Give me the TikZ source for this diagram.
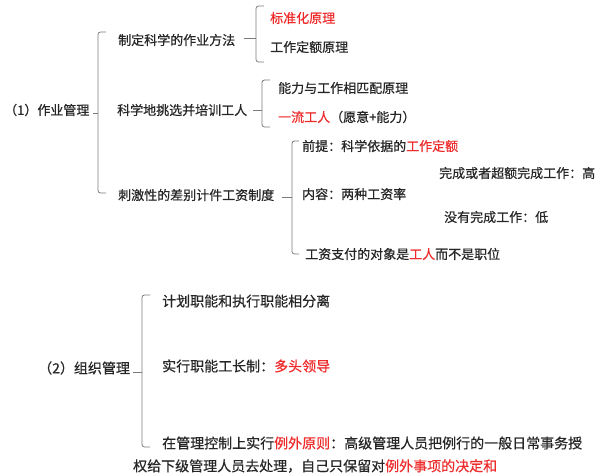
\documentclass[tikz,border=0pt]{standalone}
\usepackage{fontspec}
\setmainfont{Noto Sans CJK SC}[FakeBold=0.6]
\definecolor{txt}{HTML}{262626}
\definecolor{hl}{HTML}{EE2B2B}
\definecolor{ln}{HTML}{7A7A7A}
\tikzset{
  brace/.style={draw=ln,line width=0.8pt,rounded corners=2.5pt},
  lvla/.style={font=\fontsize{13}{15}\selectfont},
  lvlb/.style={font=\fontsize{14}{16}\selectfont}
}
\begin{document}
\begin{tikzpicture}[x=1pt,y=-1pt,every node/.style={anchor=west,inner sep=0pt,text=txt}]
  \useasboundingbox (0,0) rectangle (596,472);
  % (1)
  \begin{scope}[every node/.append style={lvla}]
    \node (zy) at (4,110) {（1）作业管理};
    \node (a1) at (118,40) {制定科学的作业方法};
    \node (a2) at (117,110) {科学地挑选并培训工人};
    \node (a3) at (118,195) {刺激性的差别计件工资制度};
    \node (b1) at (270,18) {\textcolor{hl}{标准化原理}};
    \node (b2) at (270,47) {工作定额原理};
    \node (c1) at (278,88) {能力与工作相匹配原理};
    \node (c2) at (278,117) {\textcolor{hl}{一流工人}（愿意+能力）};
    \node (d1) at (302,146) {前提：科学依据的\textcolor{hl}{工作定额}};
    \node (d2) at (302,194) {内容：两种工资率};
    \node (d3) at (305,254) {工资支付的对象是\textcolor{hl}{工人}而不是职位};
    \node (e1) at (439,173) {完成或者超额完成工作：高};
    \node (e2) at (444,217) {没有完成工作：低};
  \end{scope}
  \coordinate (zyt) at (98,32);  \coordinate (zyb) at (98,193);  \coordinate (zym) at (98,113);
  \coordinate (a1t) at (256,6);  \coordinate (a1b) at (256,62);  \coordinate (a1m) at (256,38);
  \coordinate (a2t) at (262,80); \coordinate (a2b) at (262,127); \coordinate (a2m) at (262,110);
  \coordinate (a3t) at (292,141); \coordinate (a3b) at (292,254); \coordinate (a3m) at (292,197);
  \draw[brace] ([xshift=8pt]zyt) -- (zyt) -- (zyb) -- ([xshift=8pt]zyb);
  \draw[brace] ([xshift=3pt]zy.east |- zym) -- (zym);
  \draw[brace] ([xshift=8pt]a1t) -- (a1t) -- (a1b) -- ([xshift=8pt]a1b);
  \draw[brace] ([xshift=9pt]a1.east |- a1m) -- (a1m);
  \draw[brace] ([xshift=8pt]a2t) -- (a2t) -- (a2b) -- ([xshift=8pt]a2b);
  \draw[brace] ([xshift=6pt]a2.east |- a2m) -- (a2m);
  \draw[brace] ([xshift=7pt]a3t) -- (a3t) -- (a3b) -- ([xshift=7pt]a3b);
  \draw[brace] ([xshift=8pt]a3.east |- a3m) -- (a3m);
  % (2)
  \begin{scope}[every node/.append style={lvlb}]
    \node (zz) at (38,368) {（2）组织管理};
    \node (f1) at (162,301) {计划职能和执行职能相分离};
    \node (f2) at (162,366) {实行职能工长制：\textcolor{hl}{多头领导}};
    \node (f3) at (162,443) {在管理控制上实行\textcolor{hl}{例外原则}：高级管理人员把例行的一般日常事务授};
    \node (f4) at (133,466) {权给下级管理人员去处理，自己只保留对\textcolor{hl}{例外事项的决定和}};
  \end{scope}
  \coordinate (zzt) at (142,295); \coordinate (zzb) at (142,447); \coordinate (zzm) at (142,372);
  \draw[brace] ([xshift=8pt]zzt) -- (zzt) -- (zzb) -- ([xshift=8pt]zzb);
  \draw[brace] ([xshift=3pt]zz.east |- zzm) -- (zzm);
\end{tikzpicture}
\end{document}
